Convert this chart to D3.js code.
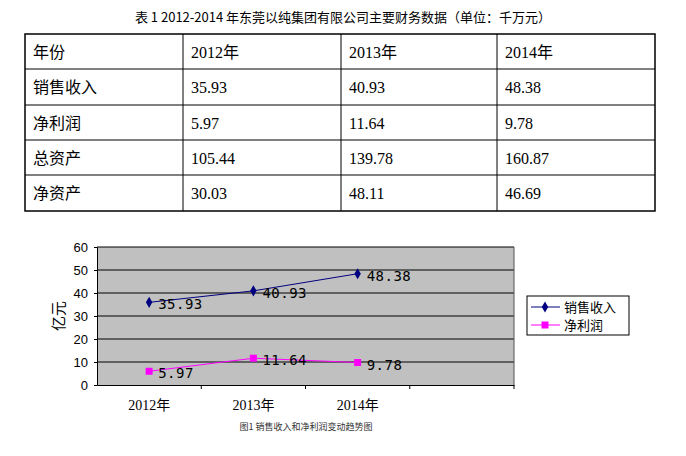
<!DOCTYPE html>
<html><head><meta charset="utf-8">
<script src="https://cdn.jsdelivr.net/npm/d3@7"></script>
<style>body{margin:0;background:#fff}</style>
</head><body>
<script>
const years = ['2012年', '2013年', '2014年']
const rowNames = ['销售收入', '净利润', '总资产', '净资产']
const sales = [35.93, 40.93, 48.38]
const profit = [5.97, 11.64, 9.78]
const assets = [105.44, 139.78, 160.87]
const netAssets = [30.03, 48.11, 46.69]
const yTicks = [0, 10, 20, 30, 40, 50, 60]

const cjk = '"Noto Sans CJK SC", sans-serif'
const serif = '"Liberation Serif", "Noto Sans CJK SC", serif'
const mono = '"DejaVu Sans Mono", monospace'

const svg = d3.select('body').append('svg').attr('width', 686).attr('height', 456)

svg.append('text').attr('x', 343).attr('y', 22).attr('text-anchor', 'middle')
  .style('font-family', cjk).style('font-size', '13px')
  .text('表 1  2012-2014 年东莞以纯集团有限公司主要财务数据（单位：千万元）')

// table
const colX = [25, 183, 341, 497, 655]
const rowY = [34, 69, 105, 140, 175, 211]
const table = [['年份', ...years]].concat(
  [sales, profit, assets, netAssets].map((v, i) => [rowNames[i], ...v.map(d => d.toFixed(2))]))

const tg = svg.append('g')
tg.append('rect').attr('x', colX[0]).attr('y', rowY[0])
  .attr('width', colX[4] - colX[0]).attr('height', rowY[5] - rowY[0])
  .attr('fill', 'none').attr('stroke', '#000').attr('stroke-width', 1.5)
colX.slice(1, 4).forEach(x => tg.append('line').attr('x1', x).attr('x2', x)
  .attr('y1', rowY[0]).attr('y2', rowY[5]).attr('stroke', '#000'))
rowY.slice(1, 5).forEach(y => tg.append('line').attr('x1', colX[0]).attr('x2', colX[4])
  .attr('y1', y).attr('y2', y).attr('stroke', '#000'))
table.forEach((row, r) => row.forEach((cell, c) => {
  tg.append('text').attr('x', colX[c] + 8).attr('y', (rowY[r] + rowY[r + 1]) / 2 + 6)
    .style('font-family', c === 0 ? cjk : serif).style('font-size', '16px')
    .text(cell)
}))

// chart
const x = d3.scaleBand().domain([...years, '']).range([97, 514])
const y = d3.scaleLinear().domain([0, 60]).range([385, 247])

svg.append('rect').attr('x', 97).attr('y', 247).attr('width', 417).attr('height', 138)
  .attr('fill', '#c0c0c0')
svg.append('g').selectAll('line').data(yTicks.slice(1)).join('line')
  .attr('x1', 97).attr('x2', 514).attr('y1', d => y(d)).attr('y2', d => y(d))
  .attr('stroke', '#000')
svg.append('line').attr('x1', 514).attr('x2', 514).attr('y1', 247).attr('y2', 385).attr('stroke', '#555')

const yAxis = svg.append('g').attr('transform', 'translate(97,0)')
  .call(d3.axisLeft(y).tickValues(yTicks).tickSize(3).tickPadding(6))
yAxis.selectAll('text').style('font-family', '"Liberation Sans", sans-serif').style('font-size', '13px')
const xAxis = svg.append('g').attr('transform', 'translate(0,385)')
  .call(d3.axisBottom(x).tickSize(0).tickFormat(''))
svg.append('g').selectAll('line').data(x.domain().slice(1)).join('line')
  .attr('x1', d => x(d)).attr('x2', d => x(d)).attr('y1', 385).attr('y2', 389).attr('stroke', '#000')
svg.append('line').attr('x1', 514).attr('x2', 514).attr('y1', 385).attr('y2', 389).attr('stroke', '#000')
svg.append('g').selectAll('text').data(years).join('text')
  .attr('x', d => x(d) + x.bandwidth() / 2).attr('y', 410).attr('text-anchor', 'middle')
  .style('font-family', serif).style('font-size', '14px').text(d => d)

svg.append('text').attr('transform', 'translate(64,316) rotate(-90)').attr('text-anchor', 'middle')
  .style('font-family', cjk).style('font-size', '15px').text('亿元')

const cx = (d, i) => x(years[i]) + x.bandwidth() / 2
const line = d3.line().x(cx).y(d => y(d))

svg.append('path').datum(sales).attr('d', line).attr('fill', 'none').attr('stroke', '#000080').attr('stroke-width', 1)
svg.append('path').datum(profit).attr('d', line).attr('fill', 'none').attr('stroke', '#ff00ff').attr('stroke-width', 1)
svg.append('g').selectAll('path').data(sales).join('path')
  .attr('transform', (d, i) => `translate(${cx(d, i)},${y(d)})`)
  .attr('d', d3.symbol(d3.symbolDiamond, 36)).attr('fill', '#000080')
svg.append('g').selectAll('rect').data(profit).join('rect')
  .attr('x', (d, i) => cx(d, i) - 3.5).attr('y', d => y(d) - 3.5).attr('width', 7).attr('height', 7)
  .attr('fill', '#ff00ff')

const labels = (data) => svg.append('g').selectAll('text').data(data).join('text')
  .attr('x', (d, i) => cx(d, i) + 9).attr('y', d => y(d) + 7)
  .style('font-family', mono).style('font-size', '14px').style('letter-spacing', '0.5px').attr('fill', '#000')
  .text(d => d.toFixed(2))
labels(sales)
labels(profit)

// legend
const lg = svg.append('g').attr('transform', 'translate(527,296)')
lg.append('rect').attr('width', 102).attr('height', 39).attr('fill', '#fff').attr('stroke', '#000')
;[['销售收入', '#000080', 'd'], ['净利润', '#ff00ff', 's']].forEach(([name, c, s], i) => {
  const yy = 11 + i * 18
  lg.append('line').attr('x1', 4).attr('x2', 33).attr('y1', yy).attr('y2', yy).attr('stroke', c)
  if (s === 'd') lg.append('path').attr('transform', `translate(18,${yy})`).attr('d', d3.symbol(d3.symbolDiamond, 36)).attr('fill', c)
  else lg.append('rect').attr('x', 14.5).attr('y', yy - 3.5).attr('width', 7).attr('height', 7).attr('fill', c)
  lg.append('text').attr('x', 37).attr('y', yy + 5).style('font-family', cjk).style('font-size', '13px').text(name)
})

svg.append('text').attr('x', 306).attr('y', 430).attr('text-anchor', 'middle')
  .style('font-family', cjk).style('font-size', '9px').attr('fill', '#333')
  .text('图1    销售收入和净利润变动趋势图')
</script>
</body></html>
